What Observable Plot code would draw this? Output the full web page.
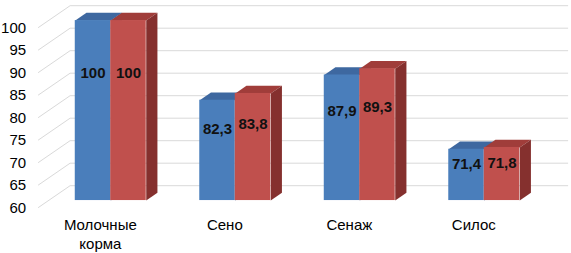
<!DOCTYPE html>
<html>
<head>
<meta charset="utf-8">
<script src="https://cdn.jsdelivr.net/npm/d3@7"></script>
<script src="https://cdn.jsdelivr.net/npm/@observablehq/plot@0.6"></script>
<style>
  html, body { margin: 0; padding: 0; background: #fff; }
  #chart svg { display: block; }
</style>
</head>
<body>
<div id="chart"></div>
<script>
// ---- data ----
const categories = ["Молочные корма", "Сено", "Сенаж", "Силос"];
const seriesBlue = [100, 82.3, 87.9, 71.4];
const seriesRed  = [100, 83.8, 89.3, 71.8];
const yTicks = [60, 65, 70, 75, 80, 85, 90, 95, 100];

// ---- styling / geometry (pseudo-3D) ----
const W = 571, H = 253;
const mL = 37.6, mR = 35.4, mT = 27.2, mB = 45.8;
const xDomain = [-0.5, categories.length - 0.5];
const yDomain = [60, 100];
const pxPerX = (W - mL - mR) / (xDomain[1] - xDomain[0]);
const pxPerY = (H - mT - mB) / (yDomain[1] - yDomain[0]);
// full depth of the chart box, in data units
const DX = 32 / pxPerX;
const DY = 22 / pxPerY;
const d1 = 0.325, d2 = 0.675;    // bar front / back depth
const bw = 0.285;                 // bar width (category units)
const colors = {
  blue: {front: "#4A7EBB", top: "#3E68A0", side: "#2F5282"},
  red:  {front: "#C0504D", top: "#A03D3A", side: "#85302E"}
};
const P = (x, y, d) => ({x: x + d * DX, y: y + d * DY});

// build bar faces from the data arrays
const fronts = [], polysBlue = [], polysRed = [], labels = [];
categories.forEach((c, i) => {
  [["blue", seriesBlue[i], 0], ["red", seriesRed[i], 1]].forEach(([s, v, k]) => {
    const x0 = i - bw + k * bw, x1 = x0 + bw;
    const a = P(x0, yDomain[0], d1), b = P(x1, v, d1);
    fronts.push({x1: a.x, x2: b.x, y1: a.y, y2: b.y, fill: colors[s].front});
    const out = s === "blue" ? polysBlue : polysRed;
    const id = c + s;
    // top face
    [P(x0, v, d1), P(x1, v, d1), P(x1, v, d2), P(x0, v, d2)]
      .forEach(p => out.push({...p, z: id + "top", fill: colors[s].top}));
    // right side face
    [P(x1, yDomain[0], d1), P(x1, v, d1), P(x1, v, d2), P(x1, yDomain[0], d2)]
      .forEach(p => out.push({...p, z: id + "side", fill: colors[s].side}));
    labels.push({x: (a.x + b.x) / 2, y: yDomain[0] + (v - yDomain[0]) * 0.71 + d1 * DY,
                 text: String(v).replace(".", ",")});
  });
});

const chart = Plot.plot({
  width: W, height: H,
  marginLeft: mL, marginRight: mR, marginTop: mT, marginBottom: mB,
  x: {type: "linear", domain: xDomain, axis: null},
  y: {type: "linear", domain: yDomain, axis: null},
  style: {fontFamily: "Arial, 'Liberation Sans', sans-serif", background: "#fff", overflow: "visible"},
  marks: [
    // left wall grid diagonals
    Plot.link(yTicks, {x1: xDomain[0], y1: d => d, x2: xDomain[0] + DX, y2: d => d + DY,
                       stroke: "#D9D9D9", strokeWidth: 1}),
    // back wall gridlines
    Plot.link(yTicks, {x1: xDomain[0] + DX, y1: d => d + DY, x2: xDomain[1] + DX, y2: d => d + DY,
                       stroke: "#D9D9D9", strokeWidth: 1}),
    // bar top and side faces (blue first, red covers the hidden blue side)
    Plot.line(polysBlue, {x: "x", y: "y", z: "z", fill: "fill", stroke: null, curve: "linear-closed"}),
    Plot.line(polysRed, {x: "x", y: "y", z: "z", fill: "fill", stroke: null, curve: "linear-closed"}),
    // bar front faces
    Plot.rect(fronts, {x1: "x1", x2: "x2", y1: "y1", y2: "y2", fill: "fill"}),
    // value labels
    Plot.text(labels, {x: "x", y: "y", text: "text", fontSize: 15, fontWeight: "bold", fill: "#111"}),
    // y tick labels
    Plot.text(yTicks, {x: xDomain[0], y: d => d, text: d => String(d), textAnchor: "end",
                       dx: -12, fontSize: 15, fill: "#000"}),
    // category labels
    Plot.text(categories, {x: (d, i) => i, y: yDomain[0], text: d => d.replace(" ", "\n"),
                           lineAnchor: "top", dy: 8, fontSize: 15, lineHeight: 1.3, fill: "#000"})
  ]
});
document.getElementById("chart").appendChild(chart);
</script>
</body>
</html>
